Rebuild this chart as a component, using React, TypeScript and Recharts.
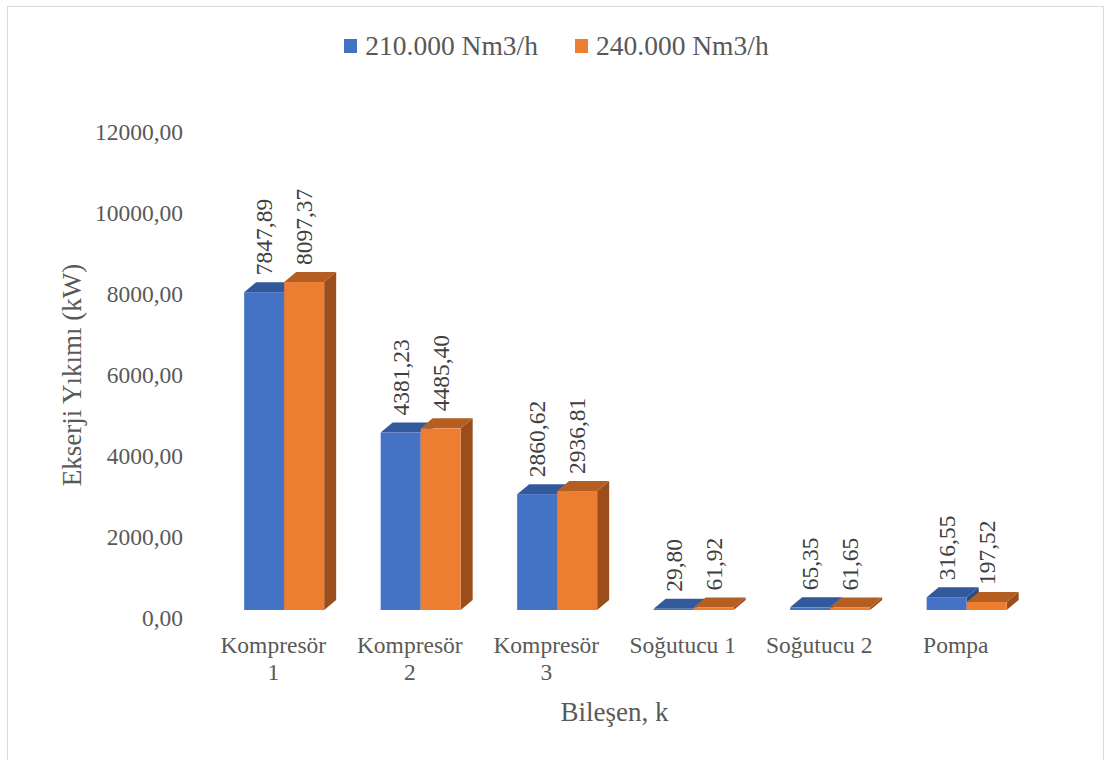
import { BarChart, Bar, XAxis, YAxis, Legend, LabelList, Label } from 'recharts';

// Ekserji yıkımı per bileşen, two flow rates
const categories = ['Kompresör\n1', 'Kompresör\n2', 'Kompresör\n3', 'Soğutucu 1', 'Soğutucu 2', 'Pompa'];
const flow210 = [7847.89, 4381.23, 2860.62, 29.8, 65.35, 316.55];
const flow240 = [8097.37, 4485.4, 2936.81, 61.92, 61.65, 197.52];
const seriesNames = ['210.000 Nm3/h', '240.000 Nm3/h'];
const yTicks = [0, 2000, 4000, 6000, 8000, 10000, 12000];

const data = categories.map((name, i) => ({ name, a: flow210[i], b: flow240[i] }));

const FONT = '"Liberation Serif", "Times New Roman", serif';
const BLUE = { front: '#4472C4', top: '#32599c', side: '#2a4a82' };
const ORANGE = { front: '#ED7D31', top: '#b55e21', side: '#9b4e1c' };

// fake 3D: front face pushed right/up, depth faces behind it
const SHIFT_X = 10.5;
const SHIFT_Y = 8;
const DX = 12;
const DY = 10;

const fmt = (v: number) => v.toFixed(2).replace('.', ',');

function Bar3D(props: any) {
  const { x, y, width, height, colors } = props;
  const x0 = x + SHIFT_X;
  const y0 = y - SHIFT_Y;
  const w = width;
  const h = Math.max(height, 0.8);
  const top = `${x0},${y0} ${x0 + DX},${y0 - DY} ${x0 + w + DX},${y0 - DY} ${x0 + w},${y0}`;
  const side = `${x0 + w},${y0} ${x0 + w + DX},${y0 - DY} ${x0 + w + DX},${y0 + h - DY} ${x0 + w},${y0 + h}`;
  return (
    <g>
      <polygon points={side} fill={colors.side} />
      <polygon points={top} fill={colors.top} />
      <rect x={x0} y={y0} width={w} height={h} fill={colors.front} />
    </g>
  );
}

const renderValue = (props: any) => {
  const { x, y, width, value } = props;
  const cx = x + SHIFT_X + width / 2;
  const ty = y - SHIFT_Y - 17;
  return (
    <text x={cx} y={ty} transform={`rotate(-90 ${cx} ${ty})`} textAnchor="start" dominantBaseline="central"
      fontSize={23.5} fill="#404040" fontFamily={FONT}>
      {fmt(Number(value))}
    </text>
  );
};

const CatTick = (props: any) => {
  const { x, y, payload } = props;
  const lines = String(payload.value).split('\n');
  return (
    <text x={x} y={y} textAnchor="middle" fontSize={23.5} fill="#595959" fontFamily={FONT}>
      {lines.map((l, i) => (
        <tspan key={i} x={x} dy={i === 0 ? 35 : 27}>{l}</tspan>
      ))}
    </text>
  );
};

const LegendBox = () => (
  <div style={{ display: 'flex', justifyContent: 'center', alignItems: 'center', height: 31, paddingLeft: 8, fontFamily: FONT, fontSize: 27.5, color: '#595959', lineHeight: '31px' }}>
    {[BLUE, ORANGE].map((c, i) => (
      <div key={i} style={{ display: 'flex', alignItems: 'center', marginRight: i === 0 ? 37 : 0 }}>
        <span style={{ width: 13, height: 14, background: c.front, marginRight: 8, display: 'inline-block' }} />
        <span>{seriesNames[i]}</span>
      </div>
    ))}
  </div>
);

export default function App() {
  return (
    <div style={{ position: 'absolute', left: 0, top: 0, width: 1105, height: 760, background: '#fff' }}>
      <div style={{ position: 'absolute', left: 7, top: 6, width: 1097, height: 754, border: '1.5px solid #d9d9d9', borderBottom: 'none', boxSizing: 'border-box' }} />
      <BarChart width={1105} height={760} data={data} margin={{ top: 132, right: 81, bottom: 0, left: 0 }}
        barCategoryGap="21%" barGap={0} style={{ position: 'absolute', left: 0, top: 0 }}>
        <XAxis dataKey="name" interval={0} axisLine={false} tickLine={false} tickSize={0} tickMargin={0} height={142} tick={<CatTick />}>
          <Label content={(p: any) => {
            const vb = p.viewBox;
            return (
              <text x={vb.x + vb.width / 2} y={721} textAnchor="middle" fontSize={27} fill="#595959" fontFamily={FONT}>Bileşen, k</text>
            );
          }} />
        </XAxis>
        <YAxis domain={[0, 12000]} ticks={yTicks} width={205} axisLine={false} tickLine={false} tickSize={0} tickMargin={22}
          tickFormatter={fmt} tick={{ fontSize: 23.5, fill: '#595959', fontFamily: FONT }}>
          <Label content={(p: any) => {
            const vb = p.viewBox;
            const cy = vb.y + vb.height / 2;
            return (
              <text x={72} y={cy} transform={`rotate(-90 72 ${cy})`} textAnchor="middle" dominantBaseline="central"
                fontSize={27} fill="#595959" fontFamily={FONT}>Ekserji Yıkımı (kW)</text>
            );
          }} />
        </YAxis>
        <Legend verticalAlign="middle" align="center" layout="horizontal" content={<LegendBox />}
          wrapperStyle={{ top: 30, left: 0, width: 1105 }} />
        <Bar dataKey="a" name={seriesNames[0]} fill={BLUE.front} isAnimationActive={false}
          shape={(p: any) => <Bar3D {...p} colors={BLUE} />}>
          <LabelList dataKey="a" content={renderValue} />
        </Bar>
        <Bar dataKey="b" name={seriesNames[1]} fill={ORANGE.front} isAnimationActive={false}
          shape={(p: any) => <Bar3D {...p} colors={ORANGE} />}>
          <LabelList dataKey="b" content={renderValue} />
        </Bar>
      </BarChart>
    </div>
  );
}
